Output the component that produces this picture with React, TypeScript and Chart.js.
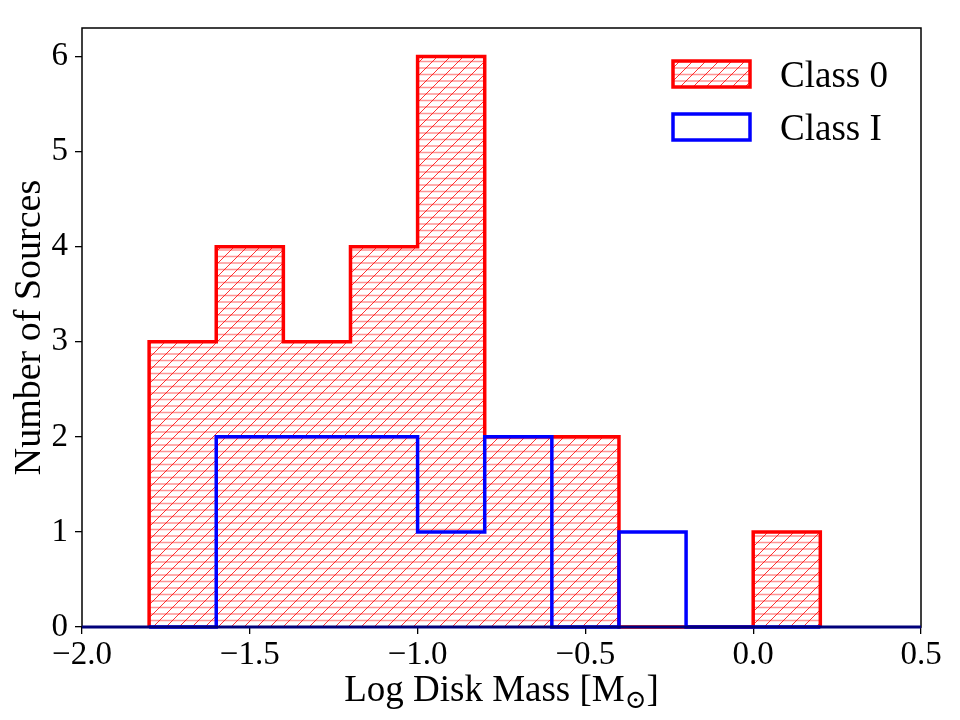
import React, { useEffect, useRef } from "react";
import { Chart, registerables } from "chart.js";

Chart.register(...registerables);

// Histogram bin edges (Log Disk Mass) and counts
const binEdges = [-1.8, -1.6, -1.4, -1.2, -1.0, -0.8, -0.6, -0.4, -0.2, 0.0, 0.2];
const class0Counts = [3, 4, 3, 4, 6, 2, 2, 0, 0, 1];
const classICounts = [0, 2, 2, 2, 1, 2, 0, 1, 0, 0];
const seriesLabels = ["Class 0", "Class I"];
const xTickValues = [-2.0, -1.5, -1.0, -0.5, 0.0, 0.5];
const yTickValues = [0, 1, 2, 3, 4, 5, 6];
const xTitleMain = "Log Disk Mass [M";
const xTitleSub = "⊙";
const xTitleEnd = "]";
const yTitle = "Number of Sources";

const FONT = "'Liberation Serif', 'Times New Roman', 'DejaVu Serif', serif";

function stepPoints(edges: number[], counts: number[]) {
  const pts: { x: number; y: number }[] = [{ x: edges[0], y: 0 }];
  for (let i = 0; i < counts.length; i++) {
    pts.push({ x: edges[i], y: counts[i] });
    pts.push({ x: edges[i + 1], y: counts[i] });
  }
  pts.push({ x: edges[edges.length - 1], y: 0 });
  return pts;
}

function makeHatch(): CanvasPattern | string {
  const c = document.createElement("canvas");
  const s = 13;
  c.width = s;
  c.height = s;
  const g = c.getContext("2d");
  if (!g) return "rgba(255,0,0,0.2)";
  g.fillStyle = "rgba(255,255,255,0)";
  g.clearRect(0, 0, s, s);
  // horizontal lines
  g.strokeStyle = "rgba(255,60,60,0.55)";
  g.lineWidth = 1.3;
  g.beginPath();
  g.moveTo(0, 3);
  g.lineTo(s, 3);
  g.moveTo(0, 9.5);
  g.lineTo(s, 9.5);
  g.stroke();
  // diagonal "/"
  g.strokeStyle = "rgba(255,0,0,0.8)";
  g.lineWidth = 1;
  g.beginPath();
  g.moveTo(-1, s + 1);
  g.lineTo(s + 1, -1);
  g.moveTo(-1, 1);
  g.lineTo(1, -1);
  g.moveTo(s - 1, s + 1);
  g.lineTo(s + 1, s - 1);
  g.stroke();
  const ctx = document.createElement("canvas").getContext("2d");
  const p = ctx ? ctx.createPattern(c, "repeat") : null;
  return p || "rgba(255,0,0,0.2)";
}

export default function App() {
  const ref = useRef<HTMLCanvasElement | null>(null);

  useEffect(() => {
    if (!ref.current) return;
    const hatch = makeHatch();

    const decorPlugin = {
      id: "decor",
      afterDatasetsDraw(chart: any) {
        const { ctx, chartArea } = chart;
        const { left, right, top, bottom } = chartArea;
        ctx.save();
        // frame
        ctx.strokeStyle = "#000";
        ctx.lineWidth = 1.5;
        ctx.strokeRect(left, top, right - left, bottom - top);
        // baseline
        ctx.strokeStyle = "#00007a";
        ctx.lineWidth = 3;
        ctx.beginPath();
        ctx.moveTo(left, bottom);
        ctx.lineTo(right, bottom);
        ctx.stroke();
        ctx.restore();
      },
      afterDraw(chart: any) {
        const { ctx, chartArea } = chart;
        ctx.save();
        // legend
        const legendFont = `37px ${FONT}`;
        const boxX = 673;
        const boxW = 77;
        const boxH = 26;
        const items = [
          { label: seriesLabels[0], stroke: "#ff0000", fill: hatch, y: 61 },
          { label: seriesLabels[1], stroke: "#0000ff", fill: null, y: 114 },
        ];
        items.forEach((it) => {
          if (it.fill) {
            ctx.fillStyle = it.fill;
            ctx.fillRect(boxX, it.y, boxW, boxH);
          }
          ctx.strokeStyle = it.stroke;
          ctx.lineWidth = 3.5;
          ctx.strokeRect(boxX, it.y, boxW, boxH);
          ctx.fillStyle = "#000";
          ctx.font = legendFont;
          ctx.textBaseline = "alphabetic";
          ctx.textAlign = "left";
          ctx.fillText(it.label, 780, it.y + 26);
        });
        // x title with subscript
        const cx = (chartArea.left + chartArea.right) / 2;
        ctx.font = `37px ${FONT}`;
        const w1 = ctx.measureText(xTitleMain).width;
        ctx.font = `26px ${FONT}`;
        const w2 = ctx.measureText(xTitleSub).width;
        ctx.font = `37px ${FONT}`;
        const w3 = ctx.measureText(xTitleEnd).width;
        const total = w1 + w2 + w3;
        let x = cx - total / 2;
        const base = 701;
        ctx.fillStyle = "#000";
        ctx.textAlign = "left";
        ctx.textBaseline = "alphabetic";
        ctx.fillText(xTitleMain, x, base);
        x += w1;
        ctx.font = `26px ${FONT}`;
        ctx.fillText(xTitleSub, x, base + 7);
        x += w2;
        ctx.font = `37px ${FONT}`;
        ctx.fillText(xTitleEnd, x, base);
        // y title
        ctx.save();
        ctx.translate(30, (chartArea.top + chartArea.bottom) / 2);
        ctx.rotate(-Math.PI / 2);
        ctx.textAlign = "center";
        ctx.textBaseline = "middle";
        ctx.font = `38px ${FONT}`;
        ctx.fillText(yTitle, 0, 0);
        ctx.restore();
        ctx.restore();
      },
    };

    const chart = new Chart(ref.current, {
      type: "line",
      data: {
        datasets: [
          {
            label: seriesLabels[1],
            data: stepPoints(binEdges, classICounts),
            borderColor: "#0000ff",
            borderWidth: 3.5,
            backgroundColor: "rgba(0,0,0,0)",
            fill: false,
            pointRadius: 0,
            tension: 0,
            borderJoinStyle: "miter",
            clip: false as any,
          },
          {
            label: seriesLabels[0],
            data: stepPoints(binEdges, class0Counts),
            borderColor: "#ff0000",
            borderWidth: 3.5,
            backgroundColor: hatch as any,
            fill: "origin",
            pointRadius: 0,
            tension: 0,
            borderJoinStyle: "miter",
            clip: false as any,
          },
        ],
      },
      options: {
        animation: false,
        responsive: false,
        maintainAspectRatio: false,
        layout: { padding: { top: 28, right: 39, left: 0, bottom: 0 } },
        plugins: {
          legend: { display: false },
          tooltip: { enabled: false },
          title: { display: false },
        },
        scales: {
          x: {
            type: "linear",
            min: -2.0,
            max: 0.5,
            afterBuildTicks: (axis: any) => {
              axis.ticks = xTickValues.map((v) => ({ value: v }));
            },
            afterFit: (scale: any) => {
              scale.height = 93;
            },
            ticks: {
              color: "#000",
              font: { family: FONT, size: 33 },
              padding: 2,
              maxRotation: 0,
              autoSkip: false,
              callback: (v: any) => {
                const n = Number(v);
                const s = Math.abs(n).toFixed(1);
                return n < -1e-9 ? "\u2212" + s : s;
              },
            },
            grid: {
              display: true,
              drawOnChartArea: false,
              drawTicks: true,
              tickLength: 7,
              color: "#000",
              lineWidth: 1.3,
            },
            border: { display: false },
          },
          y: {
            type: "linear",
            min: 0,
            max: 6.3,
            afterBuildTicks: (axis: any) => {
              axis.ticks = yTickValues.map((v) => ({ value: v }));
            },
            afterFit: (scale: any) => {
              scale.width = 82;
            },
            ticks: {
              color: "#000",
              font: { family: FONT, size: 33 },
              padding: 7,
              autoSkip: false,
              callback: (v: any) => String(v),
            },
            grid: {
              display: true,
              drawOnChartArea: false,
              drawTicks: true,
              tickLength: 7,
              color: "#000",
              lineWidth: 1.3,
            },
            border: { display: false },
          },
        },
      },
      plugins: [decorPlugin],
    } as any);

    return () => chart.destroy();
  }, []);

  return (
    <div style={{ position: "fixed", left: 0, top: 0, width: 960, height: 720, background: "#fff" }}>
      <canvas ref={ref} width={960} height={720} style={{ width: 960, height: 720, display: "block" }} />
    </div>
  );
}
